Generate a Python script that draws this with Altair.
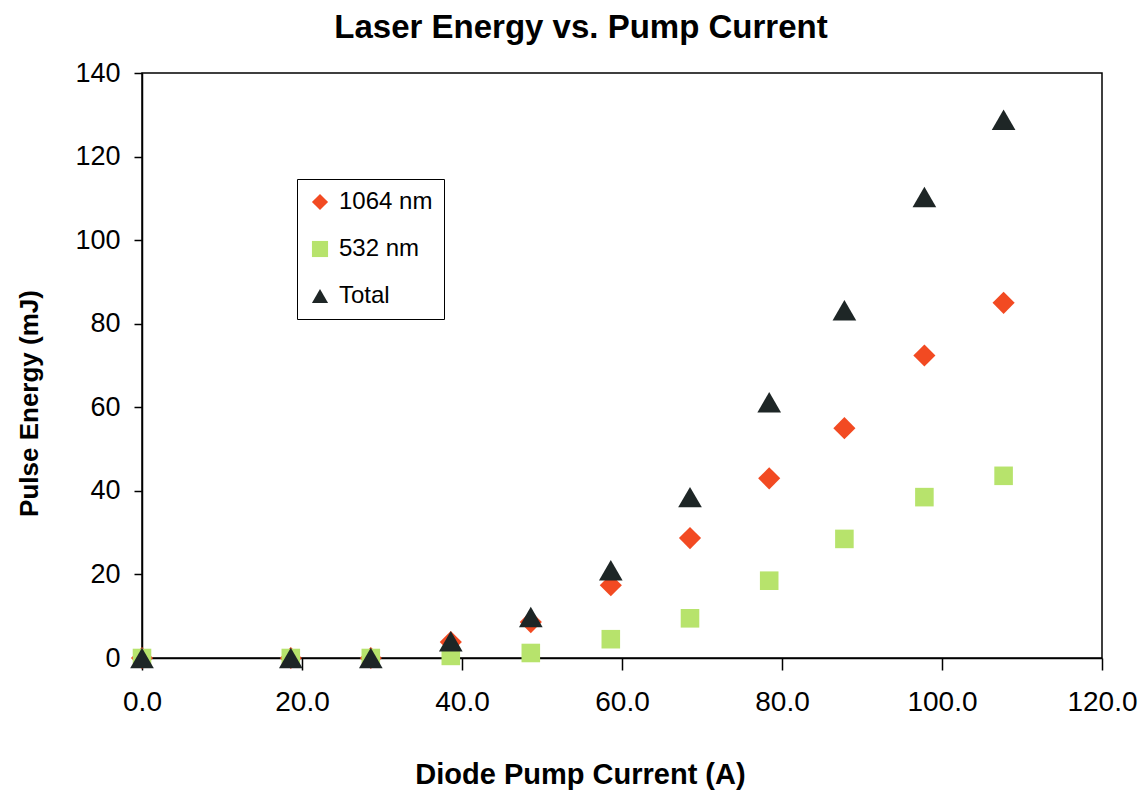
import altair as alt
import pandas as pd

current = [0.0, 18.6, 28.6, 38.6, 48.6, 58.6, 68.5, 78.4, 87.8, 97.8, 107.7]
e1064 = [0.0, 0.0, 0.0, 3.8, 8.6, 17.4, 28.7, 43.0, 55.0, 72.4, 85.0]
e532 = [0.0, 0.0, 0.0, 0.5, 1.2, 4.5, 9.5, 18.5, 28.5, 38.5, 43.6]
total = [0.0, 0.0, 0.0, 4.0, 9.8, 21.0, 38.5, 61.2, 83.2, 110.3, 128.8]

series = ["1064 nm", "532 nm", "Total"]
colors = ["#F24A22", "#B7E36C", "#1E2626"]
shapes = ["diamond", "square", "triangle-up"]
sizes = [490, 345, 560]

rows = []
for name, vals in zip(series, [e1064, e532, total]):
    for c, v in zip(current, vals):
        rows.append({"current": c, "energy": v, "series": name})
df = pd.DataFrame(rows)

font = "Liberation Sans"

x_enc = alt.X("current:Q",
              scale=alt.Scale(domain=[0, 120], nice=False, zero=False),
              axis=alt.Axis(title="Diode Pump Current (A)", values=[0, 20, 40, 60, 80, 100, 120],
                            format=".1f", grid=False, labelFontSize=28, titleFontSize=29,
                            titleFontWeight="bold", labelPadding=18, tickSize=12, titlePadding=44,
                            titleX=438,
                            labelFlush=False, domainColor="black", tickColor="black",
                            labelColor="black", titleColor="black", labelFont=font,
                            titleFont=font, domainWidth=1.5, tickWidth=1.5))
y_enc = alt.Y("energy:Q",
              scale=alt.Scale(domain=[0, 140], nice=False),
              axis=alt.Axis(title="Pulse Energy (mJ)", values=[0, 20, 40, 60, 80, 100, 120, 140],
                            grid=False, labelFontSize=27, titleFontSize=26,
                            titleFontWeight="bold", labelPadding=14, tickSize=8, titlePadding=32,
                            titleY=330,
                            labelFlush=False, domainColor="black", tickColor="black",
                            labelColor="black", titleColor="black", labelFont=font,
                            titleFont=font, domainWidth=1.5, tickWidth=1.5))
color_enc = alt.Color("series:N", scale=alt.Scale(domain=series, range=colors),
                      legend=alt.Legend(title=None, orient="none", legendX=155, legendY=106,
                                        strokeColor="black", padding=11,
                                        labelFontSize=24, labelFont=font, labelColor="black",
                                        symbolSize=260, rowPadding=23, labelOffset=7,
                                        fillColor="white"))
shape_enc = alt.Shape("series:N", scale=alt.Scale(domain=series, range=shapes))

layers = []
for name, sz in zip(series, sizes):
    layers.append(
        alt.Chart(df).transform_filter(alt.datum.series == name)
        .mark_point(filled=True, opacity=1, size=sz)
        .encode(x=x_enc, y=y_enc, color=color_enc, shape=shape_enc)
    )

chart = alt.layer(*layers).properties(
    width=960, height=585,
    title=alt.TitleParams("Laser Energy vs. Pump Current", fontSize=33, font=font,
                          fontWeight="bold", color="black", offset=14, anchor="middle",
                          dx=-41),
    autosize=alt.AutoSizeParams(type="none"),
    padding={"left": 134, "top": 65, "right": 36, "bottom": 138},
).configure_view(stroke="black", strokeWidth=1.5)

chart.save("out.html", embed_options={"renderer": "svg", "actions": False})
